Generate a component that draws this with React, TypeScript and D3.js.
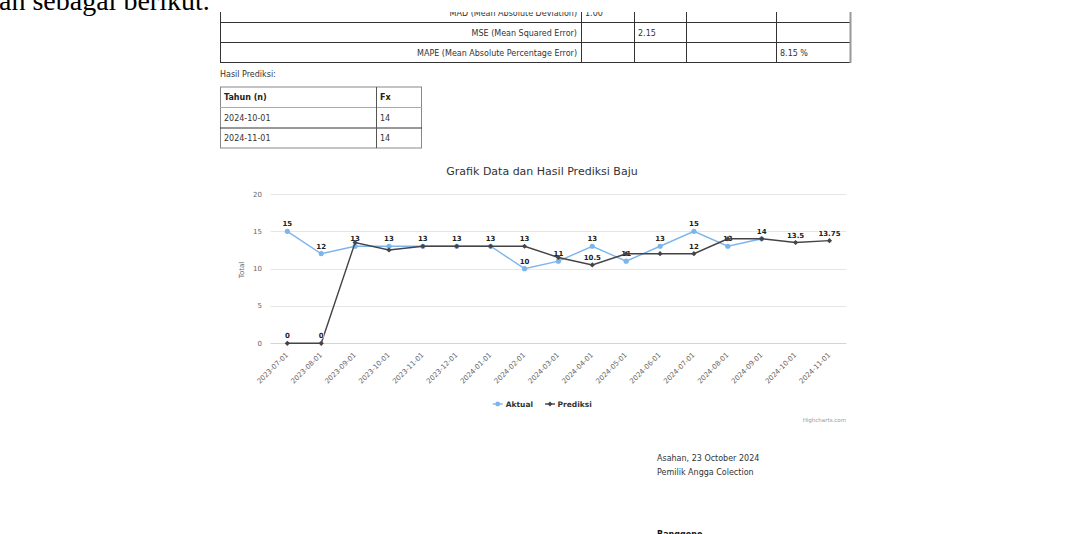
import React from 'react';
import * as d3 from 'd3';

// data
const categories = [
  '2023-07-01', '2023-08-01', '2023-09-01', '2023-10-01', '2023-11-01', '2023-12-01',
  '2024-01-01', '2024-02-01', '2024-03-01', '2024-04-01', '2024-05-01', '2024-06-01',
  '2024-07-01', '2024-08-01', '2024-09-01', '2024-10-01', '2024-11-01'
];
const aktual = [15, 12, 13, 13, 13, 13, 13, 10, 11, 13, 11, 13, 15, 13, 14];
const prediksi = [0, 0, 13.5, 12.5, 13, 13, 13, 13, 11.5, 10.5, 12, 12, 12, 14, 14, 13.5, 13.75];
const yTicks = [0, 5, 10, 15, 20];

const errorRows = [
  { label: 'MAD (Mean Absolute Deviation)', col: 0, value: '1.00' },
  { label: 'MSE (Mean Squared Error)', col: 1, value: '2.15' },
  { label: 'MAPE (Mean Absolute Percentage Error)', col: 3, value: '8.15 %' }
];
const hasilHeader = ['Tahun (n)', 'Fx'];
const hasilRows = [['2024-10-01', '14'], ['2024-11-01', '14']];

const W = 1071;
const H = 534;
const sans = '"DejaVu Sans", Verdana, sans-serif';
const chartFont = '"DejaVu Sans", "Lucida Grande", sans-serif';
const blue = '#7cb5ec';
const dark = '#434348';

const fmt = (v: number) => String(v);

const App = () => {
  const x = d3.scaleBand<string>().domain(categories).range([270.4, 846.4]);
  const cx = (c: string) => (x(c) as number) + x.bandwidth() / 2;
  const y = d3.scaleLinear().domain([0, 20]).range([343.3, 194]);

  const aktualPts = aktual.map((v, i) => ({ v, x: cx(categories[i]), y: y(v) }));
  const predPts = prediksi.map((v, i) => ({ v, x: cx(categories[i]), y: y(v) }));

  const line = d3.line<{ x: number; y: number }>().x(d => d.x).y(d => d.y);

  // label boxes, the second series hides where it hits the first one
  const box = (p: { v: number; x: number; y: number }) => {
    const w = fmt(p.v).length * 4;
    return { x0: p.x - w / 2, x1: p.x + w / 2, y0: p.y - 12, y1: p.y - 3 };
  };
  const aktualBoxes = aktualPts.map(box);
  const predShown = predPts.map(p => {
    const b = box(p);
    return !aktualBoxes.some(a => a.x0 < b.x1 && b.x0 < a.x1 && a.y0 < b.y1 && b.y0 < a.y1);
  });

  const diamond = (px: number, py: number, r: number) =>
    `M${px},${py - r}L${px + r},${py}L${px},${py + r}L${px - r},${py}Z`;

  const t1Cols = [220, 581, 634, 686, 776, 851];
  const t1Rows = [2.5, 22.5, 42.5, 62.5];
  const t2Cols = [220, 376, 422];
  const t2Rows = [87, 107.5, 128, 148];

  const label = (p: { v: number; x: number; y: number }, key: string) => (
    <text key={key} x={p.x} y={p.y - 5} textAnchor="middle" fontSize={7} fontWeight="bold"
      fill="#222" stroke="#fff" strokeWidth={1.5} paintOrder="stroke" fontFamily={chartFont}>
      {fmt(p.v)}
    </text>
  );

  return (
    <svg width={W} height={H} style={{ position: 'absolute', left: 0, top: 0, background: '#fff' }}>
      <defs>
        <clipPath id="docClip">
          <rect x={0} y={12} width={W} height={H - 12} />
        </clipPath>
      </defs>

      {/* document text above */}
      <text x={-1} y={10} fontFamily='"Liberation Serif", "Times New Roman", serif' fontSize={28} fill="#000">
        an sebagai berikut.
      </text>

      <g clipPath="url(#docClip)" fontFamily={sans} fontSize={8} fill="#333">
        {/* error table */}
        {t1Rows.slice(1).map(r => (
          <line key={'h' + r} x1={220} x2={851} y1={r} y2={r} stroke="#333" />
        ))}
        {t1Cols.slice(0, -1).map(c => (
          <line key={'v' + c} x1={c + 0.5} x2={c + 0.5} y1={t1Rows[0]} y2={t1Rows[3]} stroke="#333" />
        ))}
        <line x1={850.5} x2={850.5} y1={0} y2={63} stroke="#999" strokeWidth={2} />
        {errorRows.map((r, i) => {
          const cy = (t1Rows[i] + t1Rows[i + 1]) / 2 + 3;
          return (
            <g key={r.label}>
              <text x={577} y={cy} textAnchor="end">{r.label}</text>
              <text x={t1Cols[r.col + 1] + 4} y={cy}>{r.value}</text>
            </g>
          );
        })}

        {/* hasil prediksi */}
        <text x={220} y={77}>Hasil Prediksi:</text>
        <rect x={220.5} y={t2Rows[0]} width={t2Cols[2] - 221} height={t2Rows[3] - t2Rows[0]}
          fill="none" stroke="#888" />
        <line x1={220} x2={422} y1={t2Rows[1]} y2={t2Rows[1]} stroke="#aaa" />
        <line x1={220} x2={422} y1={t2Rows[2]} y2={t2Rows[2]} stroke="#333" />
        <line x1={t2Cols[1] + 0.5} x2={t2Cols[1] + 0.5} y1={t2Rows[0]} y2={t2Rows[3]} stroke="#555" />
        {hasilHeader.map((h, i) => (
          <text key={h} x={t2Cols[i] + 4} y={(t2Rows[0] + t2Rows[1]) / 2 + 3} fontWeight="bold" fill="#222">{h}</text>
        ))}
        {hasilRows.map((row, ri) =>
          row.map((cell, ci) => (
            <text key={ri + '-' + ci} x={t2Cols[ci] + 4} y={(t2Rows[ri + 1] + t2Rows[ri + 2]) / 2 + 3}>{cell}</text>
          ))
        )}
      </g>

      {/* chart */}
      <g fontFamily={chartFont}>
        <text x={542} y={175} textAnchor="middle" fontSize={11} fill="#333">
          Grafik Data dan Hasil Prediksi Baju
        </text>

        {yTicks.map(t => (
          <g key={t}>
            <line x1={270.4} x2={846.4} y1={Math.round(y(t)) + 0.5} y2={Math.round(y(t)) + 0.5}
              stroke={t === 0 ? '#ccd6eb' : '#e6e6e6'} />
            <text x={262} y={y(t) + 2.5} textAnchor="end" fontSize={7} fill="#666">{t}</text>
          </g>
        ))}
        <text transform={`translate(244,270) rotate(-90)`} textAnchor="middle" fontSize={7} fill="#666">
          Total
        </text>

        {categories.map(c => (
          <text key={c} transform={`translate(${cx(c)},${354}) rotate(-45)`} textAnchor="end"
            dominantBaseline="middle" fontSize={7} fill="#666">
            {c}
          </text>
        ))}

        <path d={line(aktualPts) || ''} fill="none" stroke={blue} strokeWidth={1.4} />
        {aktualPts.map((p, i) => (
          <circle key={'a' + i} cx={p.x} cy={p.y} r={2.6} fill={blue} />
        ))}
        {aktualPts.map((p, i) => label(p, 'al' + i))}

        <path d={line(predPts) || ''} fill="none" stroke={dark} strokeWidth={1.4} />
        {predPts.map((p, i) => (
          <path key={'p' + i} d={diamond(p.x, p.y, 2.6)} fill={dark} />
        ))}
        {predPts.map((p, i) => (predShown[i] ? label(p, 'pl' + i) : null))}

        {/* legend */}
        <line x1={492.7} x2={502.7} y1={404} y2={404} stroke={blue} strokeWidth={1.4} />
        <circle cx={497.7} cy={404} r={2.4} fill={blue} />
        <text x={505.7} y={406.6} fontSize={7.5} fontWeight="bold" fill="#333">Aktual</text>
        <line x1={545} x2={555} y1={404} y2={404} stroke={dark} strokeWidth={1.4} />
        <path d={diamond(550, 404, 2.4)} fill={dark} />
        <text x={557.5} y={406.6} fontSize={7.5} fontWeight="bold" fill="#333">Prediksi</text>

        <text x={846} y={422} textAnchor="end" fontSize={5.5} fill="#999">Highcharts.com</text>
      </g>

      {/* signature block */}
      <g fontFamily={sans} fontSize={8} fill="#333">
        <text x={657} y={461}>Asahan, 23 October 2024</text>
        <text x={657} y={474.5}>Pemilik Angga Colection</text>
        <text x={657} y={536.5} fontWeight="bold" fill="#111">Ranggono</text>
      </g>
    </svg>
  );
};

export default App;
